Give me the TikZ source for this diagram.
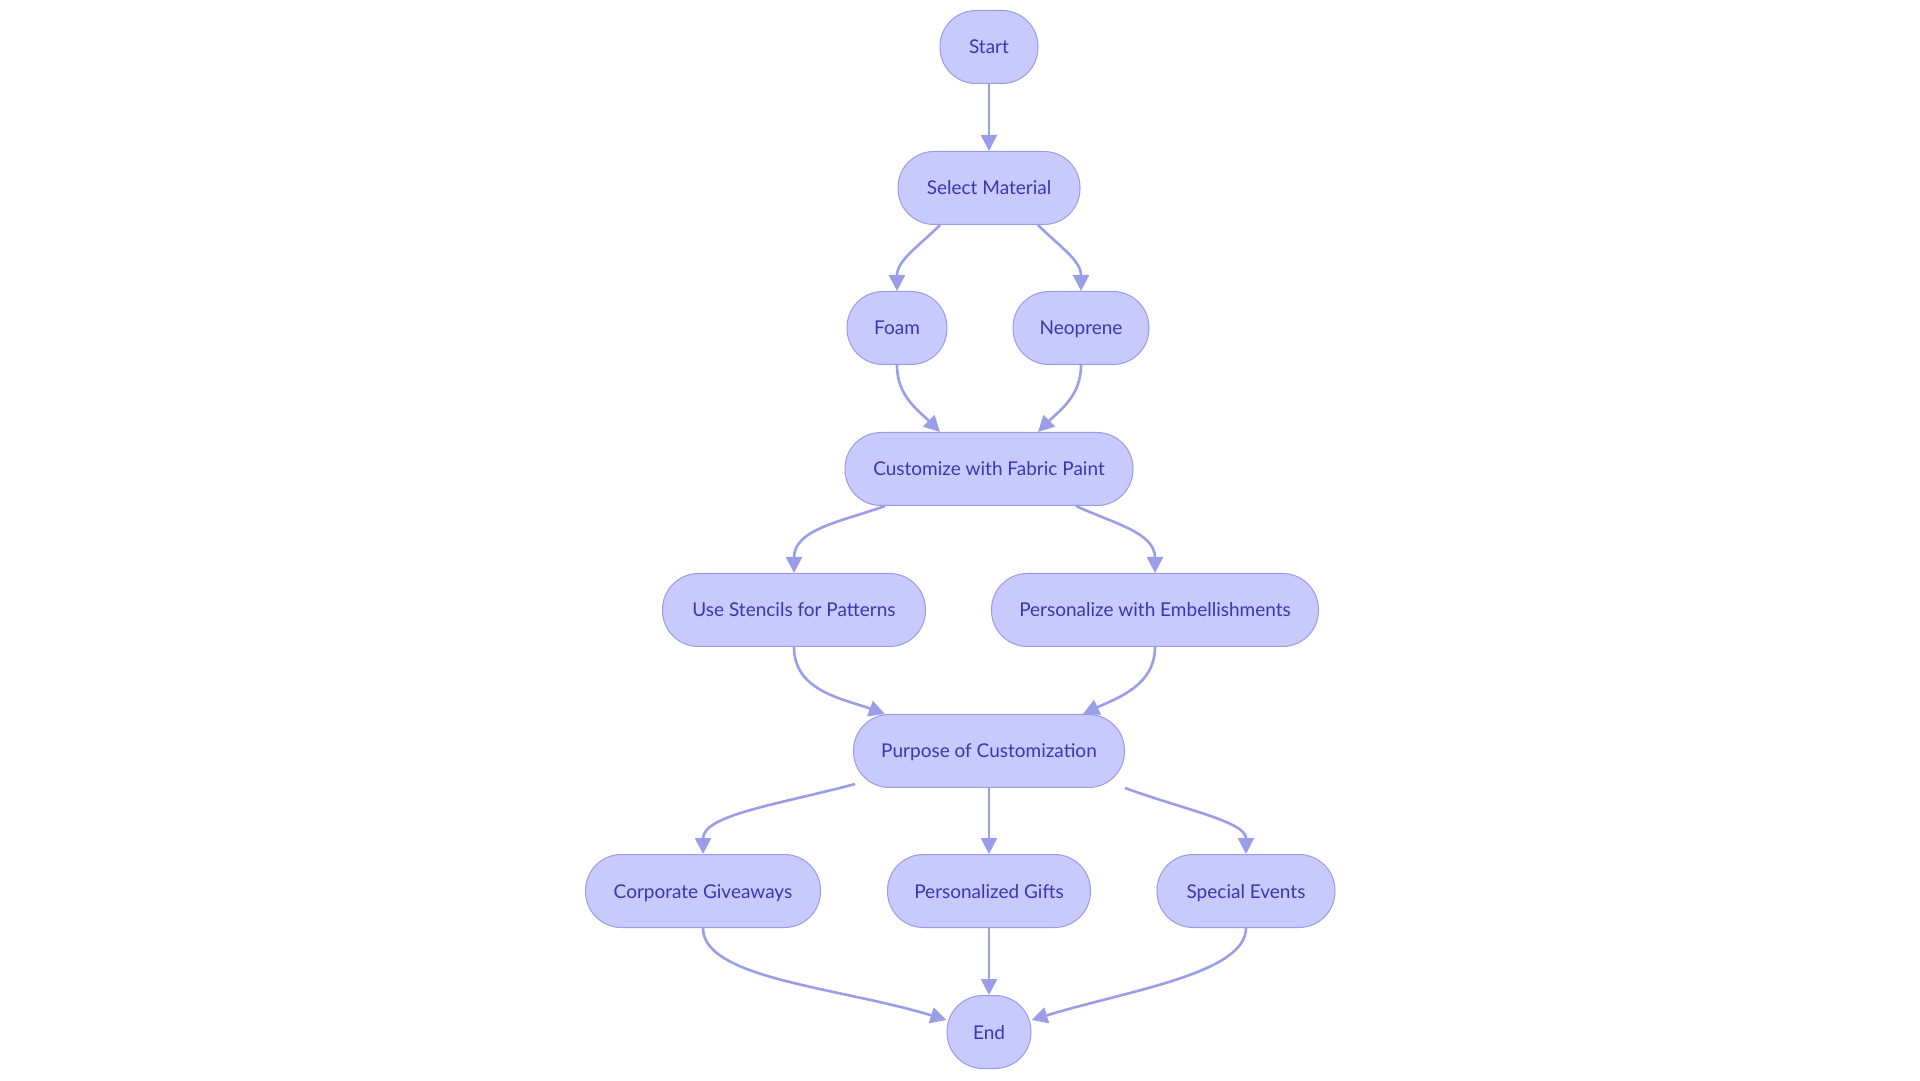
\documentclass[tikz,border=0pt]{standalone}
\usepackage{fontspec}
\setmainfont{Lato}
\usetikzlibrary{positioning}
\usetikzlibrary{arrows.meta}

\definecolor{boxfill}{RGB}{200,201,252}
\definecolor{boxline}{RGB}{152,155,234}
\definecolor{edgeline}{RGB}{154,157,232}
\definecolor{boxtext}{RGB}{56,56,178}

\tikzset{
	stadium/.style={draw=boxline, fill=boxfill, line width=1pt, rounded corners=36pt,
		minimum height=73pt, inner sep=0pt, text=boxtext, text height=14pt, text depth=0pt,
		font=\fontsize{19}{21}\selectfont},
	flow/.style={draw=edgeline, line width=2.6pt, -{Triangle[length=16pt,width=16pt]}}
}

\begin{document}
\begin{tikzpicture}[x=1pt,y=1pt]
		\useasboundingbox (0,0) rectangle (1920,1080);

		% Define the nodes
		\node[stadium, minimum width=98pt] (start) at (989,1033) {Start};
		\node[stadium, minimum width=182pt] (material) at (989,892) {Select Material};
		\node[stadium, minimum width=100pt] (foam) at (897,752) {Foam};
		\node[stadium, minimum width=136pt] (neoprene) at (1081,752) {Neoprene};
		\node[stadium, minimum width=288pt] (paint) at (989,611) {Customize with Fabric Paint};
		\node[stadium, minimum width=263pt] (stencils) at (794,470) {Use Stencils for Patterns};
		\node[stadium, minimum width=327pt] (embellish) at (1155,470) {Personalize with Embellishments};
		\node[stadium, minimum width=271pt] (purpose) at (989,329) {Purpose of Customization};
		\node[stadium, minimum width=235pt] (corporate) at (703,189) {Corporate Giveaways};
		\node[stadium, minimum width=203pt] (gifts) at (989,189) {Personalized Gifts};
		\node[stadium, minimum width=178pt] (events) at (1246,189) {Special Events};
		\node[stadium, minimum width=84pt] (end) at (989,48) {End};

		% Draw the straight edges
		\foreach \from/\to in {start/material, purpose/gifts, gifts/end}
			\draw[flow] (\from.south) -- (\to.north);

		% Draw the curved edges
		\draw[flow] ([xshift=-49pt]material.south) to[out=-135, in=90] (foam.north);
		\draw[flow] ([xshift=49pt]material.south) to[out=-45, in=90] (neoprene.north);
		\draw[flow] (foam.south) to[out=-90, in=135] ([xshift=-49pt]paint.north);
		\draw[flow] (neoprene.south) to[out=-90, in=45] ([xshift=49pt]paint.north);
		\draw[flow] ([xshift=-104pt]paint.south) to[out=200, in=90] (stencils.north);
		\draw[flow] ([xshift=87pt]paint.south) to[out=-25, in=90] (embellish.north);
		\draw[flow] (stencils.south) to[out=-90, in=160] ([xshift=-104pt]purpose.north);
		\draw[flow] (embellish.south) to[out=-90, in=25] ([xshift=94pt]purpose.north);
		\draw[flow] ([xshift=-134pt,yshift=4pt]purpose.south) to[out=195, in=90, out looseness=1.2, in looseness=0.6] (corporate.north);
		\draw[flow] ([xshift=136pt]purpose.south) to[out=-20, in=90, out looseness=1.2, in looseness=0.6] (events.north);
		\draw[flow] (corporate.south) to[out=-90, in=163, out looseness=0.5, in looseness=1.1] ([yshift=12pt]end.west);
		\draw[flow] (events.south) to[out=-90, in=17, out looseness=0.5, in looseness=1.1] ([yshift=12pt]end.east);
	\end{tikzpicture}
\end{document}
